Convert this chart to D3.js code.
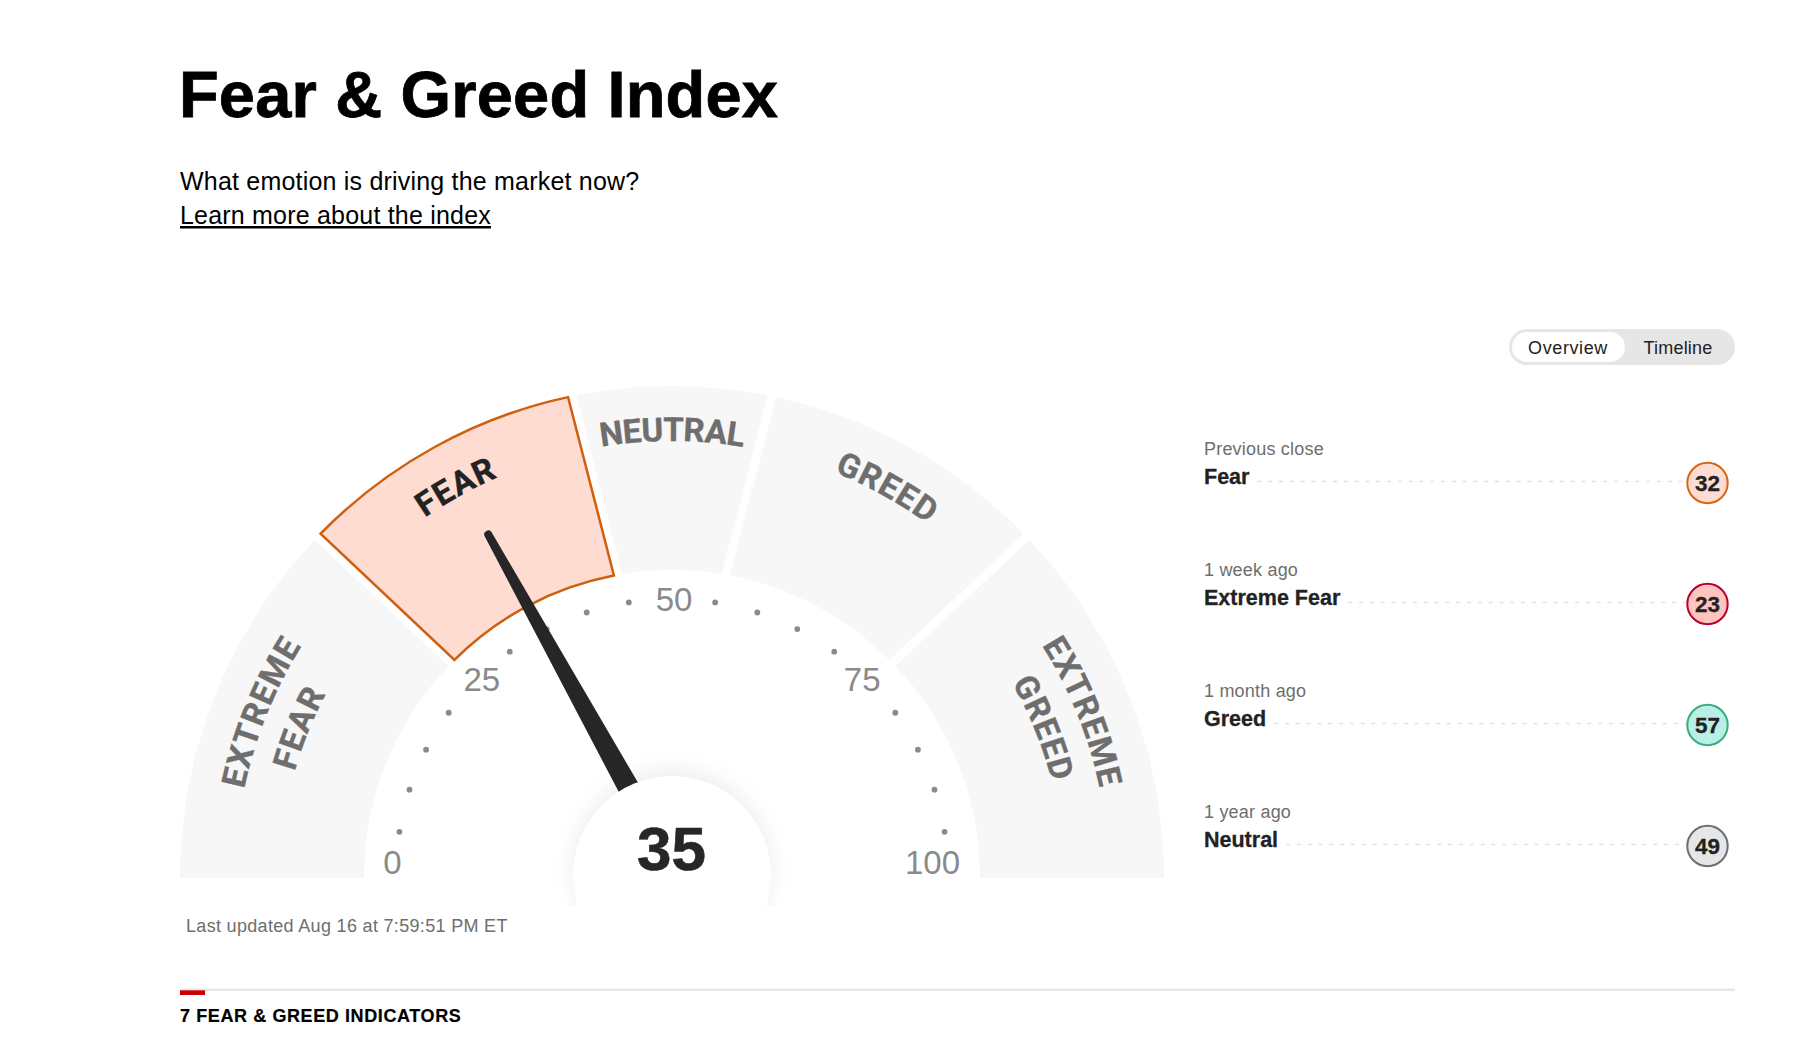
<!DOCTYPE html>
<html>
<head>
<meta charset="utf-8">
<script src="https://cdn.jsdelivr.net/npm/d3@7"></script>
<style>
  body { margin: 0; background: #fff; }
  text { font-family: "Liberation Sans", Arial, sans-serif; }
</style>
</head>
<body>
<svg id="misvg"></svg>
<script>
// values
const score = 35;
const zoneNames = [["EXTREME", "FEAR"], ["FEAR"], ["NEUTRAL"], ["GREED"], ["EXTREME", "GREED"]];
const outerBreaks = [0, 24.4, 43.5, 56.5, 75.6, 100];
const innerBreaks = [0, 24.6, 44.4, 55.6, 75.4, 100];
const tickLabels = [0, 25, 50, 75, 100];
const dotValues = [5, 10, 15, 20, 30, 35, 40, 45, 55, 60, 65, 70, 80, 85, 90, 95];
const historyLabels = ["Previous close", "1 week ago", "1 month ago", "1 year ago"];
const historyRatings = ["Fear", "Extreme Fear", "Greed", "Neutral"];
const historyValues = [32, 23, 57, 49];
const ratingFill = { "Fear": "#ffdcd2", "Extreme Fear": "#ffc4c0", "Greed": "#b9efe8", "Neutral": "#e6e6e6" };
const ratingStroke = { "Fear": "#d9660f", "Extreme Fear": "#b8002c", "Greed": "#3aae7a", "Neutral": "#6e6e6e" };

const svg = d3.select("#misvg").attr("width", 1800).attr("height", 1046);

const cx = 672, cy = 878;
const rOuter = 492, rInner = 308, gap = 8.5;
const activeZone = zoneNames.findIndex((d, i) => score >= outerBreaks[i] && score < outerBreaks[i + 1]);

const angle = d3.scaleLinear().domain([0, 100]).range([-Math.PI / 2, Math.PI / 2]);
const labelAngle = d3.scaleLinear().domain([0, 100]).range([-86.5 * Math.PI / 180, 86.5 * Math.PI / 180]);
const px = (a, r) => cx + r * Math.sin(a);
const py = (a, r) => cy - r * Math.cos(a);

// title block
svg.append("text").attr("x", 179).attr("y", 117)
  .style("font-size", "65px").style("font-weight", 700).style("letter-spacing", "0.17px")
  .attr("stroke", "#000").attr("stroke-width", 0.8)
  .attr("fill", "#000").text("Fear & Greed Index");
svg.append("text").attr("x", 180).attr("y", 190)
  .style("font-size", "25px").style("letter-spacing", "0.2px")
  .attr("fill", "#000").text("What emotion is driving the market now?");
svg.append("text").attr("x", 180).attr("y", 224)
  .style("font-size", "25px").style("letter-spacing", "0.2px").style("text-decoration", "underline")
  .attr("fill", "#000").text("Learn more about the index");

// zones
function zonePath(i) {
  const pad = r => gap / 2 / r;
  const a0 = angle(outerBreaks[i]) + (i > 0 ? pad(rOuter) : 0);
  const a1 = angle(outerBreaks[i + 1]) - (i < zoneNames.length - 1 ? pad(rOuter) : 0);
  const b0 = angle(innerBreaks[i]) + (i > 0 ? pad(rInner) : 0);
  const b1 = angle(innerBreaks[i + 1]) - (i < zoneNames.length - 1 ? pad(rInner) : 0);
  const p = d3.path();
  p.moveTo(px(a0, rOuter), py(a0, rOuter));
  p.arc(cx, cy, rOuter, a0 - Math.PI / 2, a1 - Math.PI / 2, false);
  p.lineTo(px(b1, rInner), py(b1, rInner));
  p.arc(cx, cy, rInner, b1 - Math.PI / 2, b0 - Math.PI / 2, true);
  p.closePath();
  return p.toString();
}

svg.selectAll(".zone")
  .data(zoneNames)
  .enter().append("path")
  .attr("class", "zone")
  .attr("d", (d, i) => zonePath(i))
  .attr("fill", (d, i) => i === activeZone ? "#ffdcd2" : "#f7f7f7")
  .attr("stroke", (d, i) => i === activeZone ? "#cf6010" : "none")
  .attr("stroke-width", 2.5)
  .attr("stroke-linejoin", "miter");

// zone names run along arcs, one arc per line
const baselines = [437, 392];
const defs = svg.append("defs");
baselines.forEach((r, i) => {
  const p = d3.path();
  p.moveTo(cx - r, cy);
  p.arc(cx, cy, r, Math.PI, 2 * Math.PI, false);
  defs.append("path").attr("id", "baseline" + i).attr("d", p.toString());
});

zoneNames.forEach((lines, i) => {
  const mid = (outerBreaks[i] + outerBreaks[i + 1]) / 2;
  const colour = i === activeZone ? "#222" : "#6e6e6e";
  lines.forEach((line, j) => {
    svg.append("text")
      .style("font-family", "Roboto, sans-serif")
      .style("font-size", "33px").style("font-weight", 700)
      .style("letter-spacing", line === "NEUTRAL" ? "-0.4px" : "1.2px")
      .attr("fill", colour).attr("stroke", colour).attr("stroke-width", 0.4)
      .append("textPath")
      .attr("href", "#baseline" + j)
      .attr("startOffset", mid + "%")
      .attr("text-anchor", "middle")
      .text(line);
  });
});

// dots and tick labels
const hubY = 875, hubR = 99;

svg.selectAll(".dot")
  .data(dotValues)
  .enter().append("circle")
  .attr("class", "dot")
  .attr("cx", d => px(angle(d), 276))
  .attr("cy", d => hubY - 276 * Math.cos(angle(d)))
  .attr("r", 2.9)
  .attr("fill", "#8a8a8a");

// labels are not quite on the circle in the original
const tickNudge = { 0: [-1, 1], 25: [1, 4], 50: [2, 0], 75: [-1, 4], 100: [-18, 1] };

svg.selectAll(".tick")
  .data(tickLabels)
  .enter().append("text")
  .attr("class", "tick")
  .attr("x", d => px(labelAngle(d), 279) + tickNudge[d][0])
  .attr("y", d => py(labelAngle(d), 279) + tickNudge[d][1])
  .attr("dy", "0.36em")
  .attr("text-anchor", "middle")
  .style("font-size", "33px")
  .attr("fill", "#8a8a8a")
  .text(d => d);

// hub shadow, cut off under the gauge
const filter = defs.append("filter").attr("id", "hubShadow")
  .attr("x", "-50%").attr("y", "-50%").attr("width", "200%").attr("height", "200%");
filter.append("feGaussianBlur").attr("stdDeviation", 14);
defs.append("clipPath").attr("id", "hubClip")
  .append("rect").attr("x", 0).attr("y", 0).attr("width", 1800).attr("height", 906.5);

svg.append("g").attr("clip-path", "url(#hubClip)")
  .append("circle").attr("cx", cx).attr("cy", hubY - 6).attr("r", hubR - 5)
  .attr("fill", "#000").attr("opacity", 0.1)
  .attr("filter", "url(#hubShadow)");

// needle: its axis crosses the hub a little above the centre and leans 2deg past the score
const needleLen = 379, needleBase = 84, pivotY = 866, needleLean = -2;
const needle = d3.path();
needle.moveTo(-10.8, -needleBase);
needle.lineTo(-4, -needleLen);
needle.arc(0, -needleLen, 4, Math.PI, 2 * Math.PI, false);
needle.lineTo(10.8, -needleBase);
needle.closePath();

svg.append("path")
  .attr("d", needle.toString())
  .attr("transform", `translate(${cx},${pivotY}) rotate(${angle(score) * 180 / Math.PI + needleLean})`)
  .attr("fill", "#262626");

svg.append("circle").attr("cx", cx).attr("cy", hubY).attr("r", hubR).attr("fill", "#fff");

svg.append("text").attr("x", cx - 0.5).attr("y", 870)
  .attr("text-anchor", "middle")
  .style("font-size", "62px").style("font-weight", 700)
  .attr("stroke", "#262626").attr("stroke-width", 0.6)
  .attr("fill", "#262626").text(score);

svg.append("text").attr("x", 186).attr("y", 932)
  .style("font-size", "18px").style("letter-spacing", "0.32px")
  .attr("fill", "#6e6e6e").text("Last updated Aug 16 at 7:59:51 PM ET");

// overview / timeline switch
svg.append("rect").attr("x", 1509).attr("y", 329).attr("width", 226).attr("height", 36).attr("rx", 18).attr("fill", "#e6e6e6");
svg.append("rect").attr("x", 1512).attr("y", 332).attr("width", 113).attr("height", 30).attr("rx", 15).attr("fill", "#fff");
svg.append("text").attr("x", 1568).attr("y", 354).attr("text-anchor", "middle")
  .style("font-size", "18px").style("letter-spacing", "0.6px").attr("fill", "#222").text("Overview");
svg.append("text").attr("x", 1678).attr("y", 354).attr("text-anchor", "middle")
  .style("font-size", "18px").style("letter-spacing", "0.2px").attr("fill", "#222").text("Timeline");

// history rows
const rowY = d3.scalePoint().domain(d3.range(historyLabels.length)).range([483, 846]);
const dotX = 1707.5;

const rows = svg.selectAll(".row")
  .data(historyLabels)
  .enter().append("g")
  .attr("class", "row")
  .attr("transform", (d, i) => `translate(0,${rowY(i)})`);

rows.append("text").attr("x", 1204).attr("y", -28)
  .style("font-size", "18px").style("letter-spacing", "0.2px")
  .attr("fill", "#6e6e6e").text(d => d);

rows.append("text").attr("class", "rating").attr("x", 1204).attr("y", 0.5)
  .style("font-size", "21.5px").style("font-weight", 700)
  .attr("stroke", "#222").attr("stroke-width", 0.3)
  .attr("fill", "#222").text((d, i) => historyRatings[i]);

rows.each(function(d, i) {
  const row = d3.select(this);
  const w = row.select(".rating").node().getComputedTextLength();
  row.append("line")
    .attr("x1", 1204 + w + 8).attr("x2", dotX - 21)
    .attr("y1", -1.5).attr("y2", -1.5)
    .attr("stroke", "#e3e3e3").attr("stroke-width", 1.5)
    .attr("stroke-dasharray", "4 6.8");
  row.append("circle").attr("cx", dotX).attr("cy", 0).attr("r", 20.2)
    .attr("fill", ratingFill[historyRatings[i]])
    .attr("stroke", ratingStroke[historyRatings[i]])
    .attr("stroke-width", 2);
  row.append("text").attr("x", dotX).attr("y", 8)
    .attr("text-anchor", "middle")
    .style("font-size", "22.5px").style("font-weight", 700)
    .attr("stroke", "#222").attr("stroke-width", 0.3)
    .attr("fill", "#222").text(historyValues[i]);
});

// section rule
svg.append("rect").attr("x", 180).attr("y", 988.5).attr("width", 1555).attr("height", 2.5).attr("fill", "#e6e6e6");
svg.append("rect").attr("x", 180).attr("y", 990.3).attr("width", 25).attr("height", 4.7).attr("fill", "#cc0000");
svg.append("text").attr("x", 180).attr("y", 1022)
  .style("font-size", "18px").style("font-weight", 700).style("letter-spacing", "0.6px")
  .attr("stroke", "#000").attr("stroke-width", 0.2)
  .attr("fill", "#000").text("7 FEAR & GREED INDICATORS");
</script>
</body>
</html>
